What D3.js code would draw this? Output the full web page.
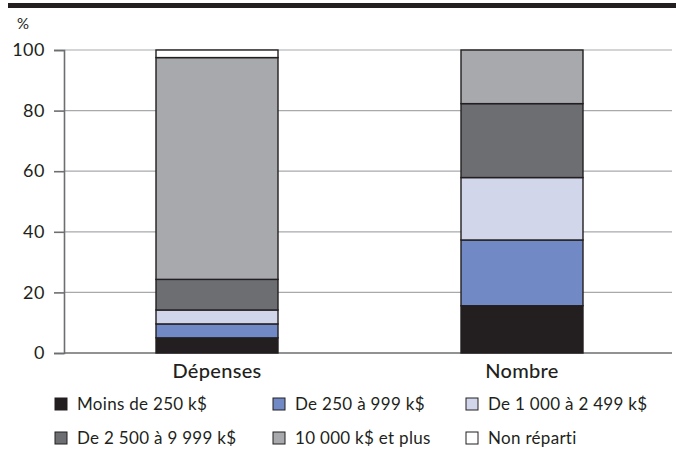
<!DOCTYPE html>
<html>
<head>
<meta charset="utf-8">
<script src="https://cdn.jsdelivr.net/npm/d3@7"></script>
<style>
body { margin:0; background:#fff; }
svg text { font-family: Lato, "Open Sans", sans-serif; fill:#231f20; }
</style>
</head>
<body>
<svg id="chart" width="676" height="454"></svg>
<script>
var categories = ["Dépenses", "Nombre"]
var seriesNames = ["Moins de 250 k$", "De 250 à 999 k$", "De 1 000 à 2 499 k$", "De 2 500 à 9 999 k$", "10 000 k$ et plus", "Non réparti"]
var seriesColors = ["#231f20", "#7189c5", "#d1d6eb", "#6d6e71", "#a7a9ac", "#ffffff"]
var depensesValues = [5.0, 4.6, 4.6, 10.1, 73.2, 2.5]
var nombreValues = [15.6, 21.7, 20.6, 24.4, 17.7, 0]
var yTicks = [0, 20, 40, 60, 80, 100]

var screen = {width: 676, height: 454}
var margins = {left: 64, right: 4, top: 50, bottom: 101}
var graph = {
    width: screen.width - margins.left - margins.right,
    height: screen.height - margins.top - margins.bottom
}

var svg = d3.select("#chart")

// bande noire du haut
svg.append("rect")
    .attr("x", 8).attr("y", 3)
    .attr("width", screen.width - 8).attr("height", 5)
    .attr("fill", "#231f20")

var target = svg.append("g")
    .attr("transform", "translate(" + margins.left + "," + margins.top + ")")

var xScale = d3.scaleBand()
    .domain(categories)
    .range([0.5, 610.5])
    .paddingInner(0.6)
    .paddingOuter(0.3)

var yScale = d3.scaleLinear()
    .domain([0, 100])
    .range([graph.height, 0])

// grille
target.selectAll(".grid")
    .data(yTicks.filter(function(t) { return t > 0 }))
    .enter()
    .append("line")
    .attr("x1", 0).attr("x2", graph.width)
    .attr("y1", function(t) { return yScale(t) })
    .attr("y2", function(t) { return yScale(t) })
    .attr("stroke", "#a7a9ac")
    .attr("stroke-width", 1.2)

// axe y
var yAxis = d3.axisLeft(yScale).tickValues(yTicks).tickSize(10).tickPadding(9)
var gy = target.append("g").call(yAxis)
gy.select(".domain").attr("stroke", "#6d6e71").attr("stroke-width", 1.6)
gy.selectAll(".tick line").attr("stroke", "#6d6e71").attr("stroke-width", 1.6)
gy.selectAll(".tick text")
    .attr("font-size", 18)
    .attr("font-family", "Lato, sans-serif")
    .attr("font-weight", 400)
    .attr("letter-spacing", 0.5)
    .attr("fill", "#231f20")

// ligne de base
target.append("line")
    .attr("x1", 0).attr("x2", graph.width)
    .attr("y1", yScale(0)).attr("y2", yScale(0))
    .attr("stroke", "#6d6e71").attr("stroke-width", 1.6)

svg.append("text")
    .text("%")
    .attr("x", 17).attr("y", 29)
    .attr("font-size", 15)

// barres empilées
var rows = [depensesValues, nombreValues]
rows.forEach(function(values, i) {
    var cum = 0
    var segs = values.map(function(v, j) {
        var s = {y0: cum, y1: cum + v, color: seriesColors[j], value: v}
        cum += v
        return s
    }).filter(function(s) { return s.value > 0 })

    target.append("g").selectAll("rect")
        .data(segs)
        .enter()
        .append("rect")
        .attr("x", xScale(categories[i]))
        .attr("width", xScale.bandwidth())
        .attr("y", function(s) { return yScale(s.y1) })
        .attr("height", function(s) { return yScale(s.y0) - yScale(s.y1) })
        .attr("fill", function(s) { return s.color })
        .attr("stroke", "#231f20")
        .attr("stroke-width", 1.4)
})

// étiquettes des catégories
target.selectAll(".cat")
    .data(categories)
    .enter()
    .append("text")
    .text(function(c) { return c })
    .attr("x", function(c) { return xScale(c) + xScale.bandwidth() / 2 })
    .attr("y", graph.height + 25)
    .attr("text-anchor", "middle")
    .attr("font-size", 20)
    .attr("font-weight", 500)
    .attr("letter-spacing", 0.3)

// légende
var legendX = [55, 273, 466]
var legendY = [398, 432]
var legend = svg.append("g")
seriesNames.forEach(function(name, j) {
    var lx = legendX[j % 3]
    var ly = legendY[Math.floor(j / 3)]
    legend.append("rect")
        .attr("x", lx).attr("y", ly)
        .attr("width", 12).attr("height", 12)
        .attr("fill", seriesColors[j])
        .attr("stroke", "#231f20")
        .attr("stroke-width", 1)
    legend.append("text")
        .text(name)
        .attr("x", lx + 22)
        .attr("y", ly + 12)
        .attr("font-size", 17)
        .attr("font-weight", 400)
        .attr("letter-spacing", 0.3)
})
</script>
</body>
</html>
